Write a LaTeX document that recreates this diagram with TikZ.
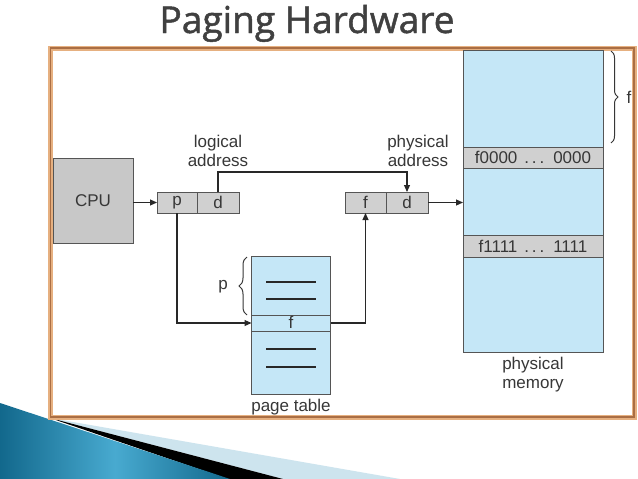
\documentclass[tikz,border=0pt]{standalone}
\usepackage{fontspec}
\setmainfont{Liberation Sans}
\newfontfamily\titlefont[FakeBold=1.3]{Open Sans}
\usetikzlibrary{arrows.meta,decorations.pathreplacing}
\definecolor{memblue}{RGB}{197,231,247}
\definecolor{cellgray}{RGB}{208,208,208}
\definecolor{cpugray}{RGB}{200,200,200}
\definecolor{linec}{RGB}{40,40,40}
\definecolor{boxline}{RGB}{85,85,85}
\definecolor{txt}{RGB}{55,55,55}
\definecolor{titlegray}{RGB}{64,64,64}
\definecolor{frameout}{RGB}{230,176,128}
\definecolor{framein}{RGB}{170,110,68}
\definecolor{decodark}{RGB}{18,104,140}
\definecolor{decolight}{RGB}{72,170,208}
\definecolor{decopale}{RGB}{205,228,238}
\tikzset{
  box/.style={draw=boxline, line width=1pt, inner sep=0pt, outer sep=0pt, text=txt},
  cell/.style={box, fill=cellgray, minimum height=21pt},
  band/.style={box, fill=cellgray, minimum width=140pt, minimum height=21pt},
  lbl/.style={text=txt, inner sep=0pt, align=center},
  conn/.style={draw=linec, line width=1.1pt},
  arr/.style={conn, -{Triangle[length=7pt,width=6pt]}},
  brc/.style={draw=txt, line width=1pt, decorate},
  inner/.style={draw=linec, line width=1.1pt}
}
\begin{document}
\begin{tikzpicture}[x=1pt,y=-1pt,font=\fontsize{17}{19}\selectfont]
\useasboundingbox (0,0) rectangle (638,479);
\fill[white] (0,0) rectangle (638,479);
% bottom-left decoration
\fill[decopale] (50,418) -- (400,479) -- (283,479) -- cycle;
\fill[black] (50,418) -- (283,479) -- (228,479) -- cycle;
\shade[left color=decodark, right color=decodark, middle color=decolight] (0,403) -- (230,479) -- (0,479) -- cycle;
% title
\node[anchor=base, text=titlegray, inner sep=0pt] (title) at (307,33) {\resizebox{295pt}{!}{\titlefont\fontsize{36}{40}\selectfont Paging Hardware}};
% frame
\draw[line width=5pt, frameout] (50.5,48) rectangle (634,417);
\draw[line width=1.5pt, framein] (50.5,48) rectangle (634,417);
% memory
\node[box, fill=memblue, minimum width=140pt, minimum height=302pt] (mem) at (533,201) {};
\node[band] (band0) at (533,157.5) {f0000\hspace{7pt}.\,.\,.\hspace{9pt}0000};
\node[band, minimum height=22pt] (band1) at (533,246) {f1111\hspace{7pt}.\,.\,.\hspace{9pt}1111};
\node[lbl] (memlbl) at (533,375) {physical\\memory};
\draw[brc, decoration={brace, amplitude=7pt}] (611,51) -- (611,143);
\node[lbl] (flbl) at (629,97) {f};
% CPU
\node[box, fill=cpugray, minimum width=80pt, minimum height=85pt] (cpu) at (93,201) {CPU};
% logical address
\node[cell, minimum width=40pt] (p) at (177,202.5) {\raisebox{-1pt}{p}};
\node[cell, minimum width=42pt, anchor=west] (d) at (p.east) {d};
\node[lbl] (loglbl) at (218,151) {logical\\address};
% physical address
\node[cell, minimum width=41pt] (pf) at (365.5,202.5) {f};
\node[cell, minimum width=42pt, anchor=west] (pd) at (pf.east) {d};
\node[lbl] (physlbl) at (418,151) {physical\\address};
% page table
\node[box, fill=memblue, minimum width=79pt, minimum height=138pt] (pt) at (291,325) {};
\node[box, fill=memblue, minimum width=79pt, minimum height=16pt] (frow) at (291,323) {\raisebox{1pt}{f}};
\draw[inner] (266,282) -- (316,282);
\draw[inner] (266,299) -- (316,299);
\draw[inner] (266,349) -- (316,349);
\draw[inner] (266,367) -- (316,367);
\node[lbl] (ptlbl) at (291,407) {page table};
\draw[brc, decoration={brace, amplitude=8pt}] (247,315) -- (247,257);
\node[lbl] (plbl) at (223,287) {p};
% connectors
\coordinate (ytop) at (0,172);
\draw[arr] (cpu.east |- p.west) -- (p.west);
\draw[arr] (d.north) -- (d.north |- ytop) -| (pd.north);
\draw[arr] (p.south) |- (frow.west);
\draw[arr] (frow.east) -| (pf.south);
\draw[arr] (pd.east) -- (pd.east -| mem.west);
\end{tikzpicture}
\end{document}
